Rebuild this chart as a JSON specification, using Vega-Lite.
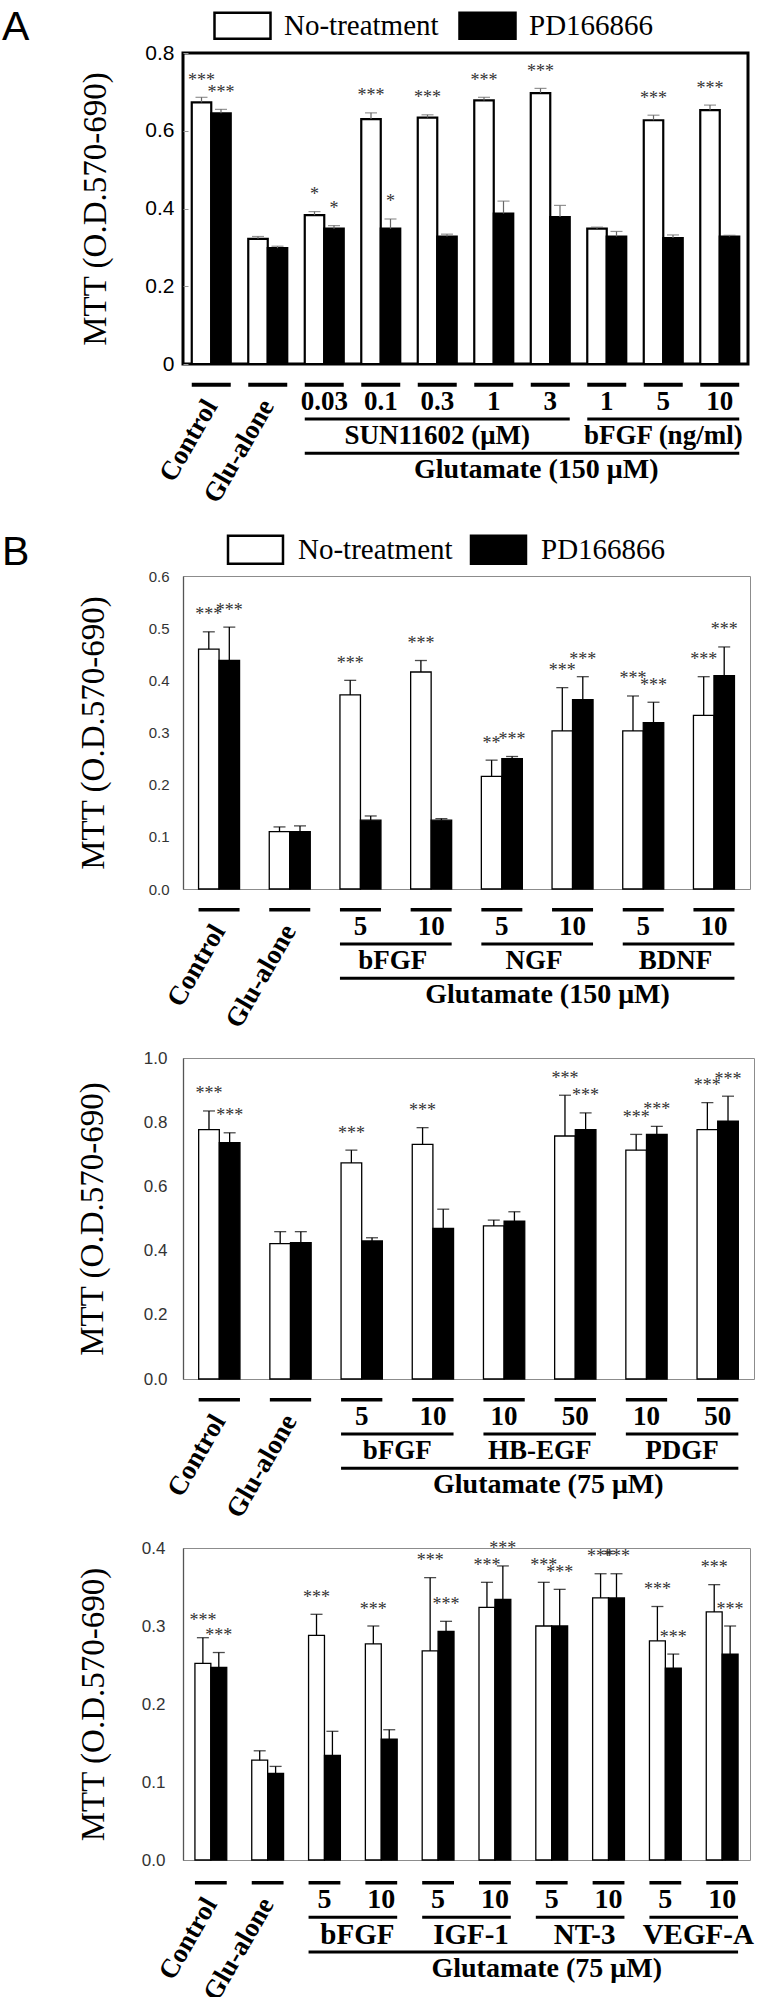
{
"$schema": "https://vega.github.io/schema/vega-lite/v6.json",
"padding": {"left": 0, "top": 5, "right": 0, "bottom": 0},
"background": "white",
"config": {"view": {"stroke": null}, "text": {"font": "Liberation Serif"}},
"datasets": {
"A": [
{"g":"Control","s":"No-treatment","v":0.673,"e":0.686,"sig":"***"},
{"g":"Control","s":"PD166866","v":0.645,"e":0.655,"sig":"***"},
{"g":"Glu-alone","s":"No-treatment","v":0.322,"e":0.328,"sig":""},
{"g":"Glu-alone","s":"PD166866","v":0.298,"e":0.303,"sig":""},
{"g":"S0.03","s":"No-treatment","v":0.383,"e":0.392,"sig":"*"},
{"g":"S0.03","s":"PD166866","v":0.348,"e":0.356,"sig":"*"},
{"g":"S0.1","s":"No-treatment","v":0.630,"e":0.646,"sig":"***"},
{"g":"S0.1","s":"PD166866","v":0.348,"e":0.373,"sig":"*"},
{"g":"S0.3","s":"No-treatment","v":0.634,"e":0.641,"sig":"***"},
{"g":"S0.3","s":"PD166866","v":0.328,"e":0.334,"sig":""},
{"g":"S1","s":"No-treatment","v":0.678,"e":0.686,"sig":"***"},
{"g":"S1","s":"PD166866","v":0.387,"e":0.419,"sig":""},
{"g":"S3","s":"No-treatment","v":0.697,"e":0.709,"sig":"***"},
{"g":"S3","s":"PD166866","v":0.378,"e":0.408,"sig":""},
{"g":"F1","s":"No-treatment","v":0.348,"e":0.352,"sig":""},
{"g":"F1","s":"PD166866","v":0.328,"e":0.341,"sig":""},
{"g":"F5","s":"No-treatment","v":0.627,"e":0.640,"sig":"***"},
{"g":"F5","s":"PD166866","v":0.324,"e":0.332,"sig":""},
{"g":"F10","s":"No-treatment","v":0.653,"e":0.666,"sig":"***"},
{"g":"F10","s":"PD166866","v":0.328,"e":0.331,"sig":""}
],
"Ag": [
{"g":"Control","dose":"","rot":"Control"},
{"g":"Glu-alone","dose":"","rot":"Glu-alone"},
{"g":"S0.03","dose":"0.03","rot":""},
{"g":"S0.1","dose":"0.1","rot":""},
{"g":"S0.3","dose":"0.3","rot":""},
{"g":"S1","dose":"1","rot":""},
{"g":"S3","dose":"3","rot":""},
{"g":"F1","dose":"1","rot":""},
{"g":"F5","dose":"5","rot":""},
{"g":"F10","dose":"10","rot":""}
],
"Abr": [
{"from":"S0.03","to":"S3","mid":"S0.3","label":"SUN11602 (μM)"},
{"from":"F1","to":"F10","mid":"F5","label":"bFGF (ng/ml)"}
],
"Aglu": [{"from":"S0.03","to":"F10","anchor":"S3","label":"Glutamate (150 μM)"}],
"B1": [
{"g":"Control","s":"No-treatment","v":0.460,"e":0.493,"sig":"***"},
{"g":"Control","s":"PD166866","v":0.438,"e":0.502,"sig":"***"},
{"g":"Glu-alone","s":"No-treatment","v":0.110,"e":0.119,"sig":""},
{"g":"Glu-alone","s":"PD166866","v":0.110,"e":0.121,"sig":""},
{"g":"bFGF5","s":"No-treatment","v":0.372,"e":0.400,"sig":"***"},
{"g":"bFGF5","s":"PD166866","v":0.132,"e":0.140,"sig":""},
{"g":"bFGF10","s":"No-treatment","v":0.416,"e":0.438,"sig":"***"},
{"g":"bFGF10","s":"PD166866","v":0.132,"e":0.135,"sig":""},
{"g":"NGF5","s":"No-treatment","v":0.216,"e":0.247,"sig":"**"},
{"g":"NGF5","s":"PD166866","v":0.250,"e":0.254,"sig":"***"},
{"g":"NGF10","s":"No-treatment","v":0.303,"e":0.386,"sig":"***"},
{"g":"NGF10","s":"PD166866","v":0.363,"e":0.407,"sig":"***"},
{"g":"BDNF5","s":"No-treatment","v":0.303,"e":0.370,"sig":"***"},
{"g":"BDNF5","s":"PD166866","v":0.319,"e":0.358,"sig":"***"},
{"g":"BDNF10","s":"No-treatment","v":0.333,"e":0.407,"sig":"***"},
{"g":"BDNF10","s":"PD166866","v":0.409,"e":0.464,"sig":"***"}
],
"B1g": [
{"g":"Control","dose":"","rot":"Control"},
{"g":"Glu-alone","dose":"","rot":"Glu-alone"},
{"g":"bFGF5","dose":"5","rot":""},
{"g":"bFGF10","dose":"10","rot":""},
{"g":"NGF5","dose":"5","rot":""},
{"g":"NGF10","dose":"10","rot":""},
{"g":"BDNF5","dose":"5","rot":""},
{"g":"BDNF10","dose":"10","rot":""}
],
"B1br": [
{"from":"bFGF5","to":"bFGF10","label":"bFGF"},
{"from":"NGF5","to":"NGF10","label":"NGF"},
{"from":"BDNF5","to":"BDNF10","label":"BDNF"}
],
"B1glu": [{"from":"bFGF5","to":"BDNF10","anchor":"NGF10","label":"Glutamate (150 μM)"}],
"B2": [
{"g":"Control","s":"No-treatment","v":0.777,"e":0.835,"sig":"***"},
{"g":"Control","s":"PD166866","v":0.736,"e":0.767,"sig":"***"},
{"g":"Glu-alone","s":"No-treatment","v":0.422,"e":0.459,"sig":""},
{"g":"Glu-alone","s":"PD166866","v":0.425,"e":0.459,"sig":""},
{"g":"bFGF5","s":"No-treatment","v":0.673,"e":0.713,"sig":"***"},
{"g":"bFGF5","s":"PD166866","v":0.430,"e":0.440,"sig":""},
{"g":"bFGF10","s":"No-treatment","v":0.731,"e":0.783,"sig":"***"},
{"g":"bFGF10","s":"PD166866","v":0.469,"e":0.529,"sig":""},
{"g":"HB10","s":"No-treatment","v":0.477,"e":0.495,"sig":""},
{"g":"HB10","s":"PD166866","v":0.492,"e":0.521,"sig":""},
{"g":"HB50","s":"No-treatment","v":0.757,"e":0.884,"sig":"***"},
{"g":"HB50","s":"PD166866","v":0.777,"e":0.829,"sig":"***"},
{"g":"PDGF10","s":"No-treatment","v":0.713,"e":0.762,"sig":"***"},
{"g":"PDGF10","s":"PD166866","v":0.762,"e":0.787,"sig":"***"},
{"g":"PDGF50","s":"No-treatment","v":0.777,"e":0.861,"sig":"***"},
{"g":"PDGF50","s":"PD166866","v":0.803,"e":0.881,"sig":"***"}
],
"B2g": [
{"g":"Control","dose":"","rot":"Control"},
{"g":"Glu-alone","dose":"","rot":"Glu-alone"},
{"g":"bFGF5","dose":"5","rot":""},
{"g":"bFGF10","dose":"10","rot":""},
{"g":"HB10","dose":"10","rot":""},
{"g":"HB50","dose":"50","rot":""},
{"g":"PDGF10","dose":"10","rot":""},
{"g":"PDGF50","dose":"50","rot":""}
],
"B2br": [
{"from":"bFGF5","to":"bFGF10","label":"bFGF"},
{"from":"HB10","to":"HB50","label":"HB-EGF"},
{"from":"PDGF10","to":"PDGF50","label":"PDGF"}
],
"B2glu": [{"from":"bFGF5","to":"PDGF50","anchor":"HB50","label":"Glutamate (75 μM)"}],
"B3": [
{"g":"Control","s":"No-treatment","v":0.252,"e":0.285,"sig":"***"},
{"g":"Control","s":"PD166866","v":0.247,"e":0.266,"sig":"***"},
{"g":"Glu-alone","s":"No-treatment","v":0.128,"e":0.140,"sig":""},
{"g":"Glu-alone","s":"PD166866","v":0.111,"e":0.120,"sig":""},
{"g":"bFGF5","s":"No-treatment","v":0.288,"e":0.315,"sig":"***"},
{"g":"bFGF5","s":"PD166866","v":0.134,"e":0.165,"sig":""},
{"g":"bFGF10","s":"No-treatment","v":0.277,"e":0.300,"sig":"***"},
{"g":"bFGF10","s":"PD166866","v":0.155,"e":0.167,"sig":""},
{"g":"IGF5","s":"No-treatment","v":0.268,"e":0.362,"sig":"***"},
{"g":"IGF5","s":"PD166866","v":0.293,"e":0.306,"sig":"***"},
{"g":"IGF10","s":"No-treatment","v":0.324,"e":0.356,"sig":"***"},
{"g":"IGF10","s":"PD166866","v":0.334,"e":0.377,"sig":"***"},
{"g":"NT5","s":"No-treatment","v":0.300,"e":0.356,"sig":"***"},
{"g":"NT5","s":"PD166866","v":0.300,"e":0.347,"sig":"***"},
{"g":"NT10","s":"No-treatment","v":0.336,"e":0.367,"sig":"***"},
{"g":"NT10","s":"PD166866","v":0.336,"e":0.367,"sig":"***"},
{"g":"VEGF5","s":"No-treatment","v":0.281,"e":0.325,"sig":"***"},
{"g":"VEGF5","s":"PD166866","v":0.246,"e":0.264,"sig":"***"},
{"g":"VEGF10","s":"No-treatment","v":0.318,"e":0.353,"sig":"***"},
{"g":"VEGF10","s":"PD166866","v":0.264,"e":0.300,"sig":"***"}
],
"B3g": [
{"g":"Control","dose":"","rot":"Control"},
{"g":"Glu-alone","dose":"","rot":"Glu-alone"},
{"g":"bFGF5","dose":"5","rot":""},
{"g":"bFGF10","dose":"10","rot":""},
{"g":"IGF5","dose":"5","rot":""},
{"g":"IGF10","dose":"10","rot":""},
{"g":"NT5","dose":"5","rot":""},
{"g":"NT10","dose":"10","rot":""},
{"g":"VEGF5","dose":"5","rot":""},
{"g":"VEGF10","dose":"10","rot":""}
],
"B3br": [
{"from":"bFGF5","to":"bFGF10","label":"bFGF"},
{"from":"IGF5","to":"IGF10","label":"IGF-1"},
{"from":"NT5","to":"NT10","label":"NT-3"},
{"from":"VEGF5","to":"VEGF10","label":"VEGF-A"}
],
"B3glu": [{"from":"bFGF5","to":"VEGF10","anchor":"NT5","label":"Glutamate (75 μM)"}]
},
"vconcat": [
{
"width": 565, "height": 311,
"data": {"name": "A"},
"view": {"stroke": "black", "strokeWidth": 3},
"title": {"text": "A", "anchor": "start", "frame": "group", "dx": -181, "dy": 38, "font": "Liberation Sans", "fontSize": 41, "fontWeight": "normal", "color": "black", "offset": 0},
"encoding": {
"x": {"field": "g", "type": "nominal", "scale": {"type": "band", "domain": ["Control","Glu-alone","S0.03","S0.1","S0.3","S1","S3","F1","F5","F10"], "paddingInner": 0.31, "paddingOuter": 0.155}, "axis": null},
"xOffset": {"field": "s", "type": "nominal", "scale": {"domain": ["No-treatment","PD166866"], "paddingInner": 0, "paddingOuter": 0}}
},
"layer": [
{"mark": {"type": "bar", "stroke": "black", "strokeWidth": 2.2},
"encoding": {
"y": {"field": "v", "type": "quantitative", "title": "MTT (O.D.570-690)", "scale": {"domain": [0, 0.8], "nice": false},
"axis": {"values": [0,0.1,0.2,0.3,0.4,0.5,0.6,0.7,0.8], "labelExpr": "datum.value < 0.001 ? '0' : (round(datum.value * 10) % 2 == 0 ? format(datum.value, '.1f') : '')", "titleFont": "Liberation Serif", "titleFontSize": 33, "titleFontWeight": "normal", "titleColor": "black", "titleX": -88, "titleBaseline": "middle", "grid": false, "domain": false, "ticks": true, "tickSize": -5, "tickColor": "#999", "labelFont": "Liberation Sans", "labelFontSize": 21, "labelColor": "black", "labelPadding": 14}},
"fill": {"field": "s", "type": "nominal", "scale": {"domain": ["No-treatment","PD166866"], "range": ["white","black"]},
"legend": {"orient": "none", "legendX": 45, "legendY": -42, "direction": "horizontal", "title": null, "symbolType": "M-2.154,-1H2.154V1H-2.154Z", "symbolSize": 676, "symbolStrokeColor": "black", "symbolStrokeWidth": 2.5, "labelFont": "Liberation Serif", "labelFontSize": 29, "labelColor": "black", "labelOffset": 27, "columnPadding": 15, "labelLimit": 0}}
}},
{"mark": {"type": "rule", "color": "#666", "strokeWidth": 1.2},
"encoding": {"y": {"field": "v", "type": "quantitative", "title": "MTT (O.D.570-690)"}, "y2": {"field": "e"}}},
{"mark": {"type": "tick", "color": "#666", "thickness": 1.2, "size": 12, "orient": "horizontal"},
"encoding": {"y": {"field": "e", "type": "quantitative", "title": "MTT (O.D.570-690)"}}},
{"mark": {"type": "text", "font": "Liberation Serif", "fontSize": 18, "dy": -11.5, "baseline": "alphabetic", "color": "#333"},
"encoding": {"y": {"field": "e", "type": "quantitative", "title": "MTT (O.D.570-690)"}, "text": {"field": "sig"}}}
]
},
{
"width": 565, "height": 212,
"layer": [
{"data": {"name": "Ag"}, "mark": {"type": "rule", "strokeWidth": 4, "color": "black"},
"encoding": {
"x": {"field": "g", "type": "nominal", "bandPosition": 0, "scale": {"type": "band", "domain": ["Control","Glu-alone","S0.03","S0.1","S0.3","S1","S3","F1","F5","F10"], "paddingInner": 0.31, "paddingOuter": 0.155}, "axis": null},
"x2": {"field": "g", "bandPosition": 1},
"y": {"datum": "dash", "type": "nominal", "scale": {"type": "point", "domain": ["dash","dose","line1","agent","line2","glu"], "range": [12.3, 114.8]}, "axis": null}}},
{"data": {"name": "Ag"}, "mark": {"type": "text", "font": "Liberation Serif", "fontWeight": "bold", "fontSize": 27, "baseline": "middle", "color": "black"},
"encoding": {"x": {"field": "g", "type": "nominal"}, "y": {"datum": "dose", "type": "nominal"}, "text": {"field": "dose"}}},
{"data": {"name": "Ag"}, "mark": {"type": "text", "font": "Liberation Serif", "fontWeight": "bold", "fontSize": 27, "angle": 300, "align": "right", "baseline": "middle", "color": "black"},
"encoding": {"x": {"field": "g", "type": "nominal"}, "y": {"datum": "dose", "type": "nominal"}, "text": {"field": "rot"}}},
{"data": {"name": "Abr"}, "mark": {"type": "rule", "strokeWidth": 3, "color": "black"},
"encoding": {"x": {"field": "from", "type": "nominal", "bandPosition": 0}, "x2": {"field": "to", "bandPosition": 1}, "y": {"datum": "line1", "type": "nominal"}}},
{"data": {"name": "Abr"}, "mark": {"type": "text", "font": "Liberation Serif", "fontWeight": "bold", "fontSize": 27, "baseline": "middle", "color": "black"},
"encoding": {"x": {"field": "mid", "type": "nominal"}, "y": {"datum": "agent", "type": "nominal"}, "text": {"field": "label"}}},
{"data": {"name": "Aglu"}, "mark": {"type": "rule", "strokeWidth": 3, "color": "black"},
"encoding": {"x": {"field": "from", "type": "nominal", "bandPosition": 0}, "x2": {"field": "to", "bandPosition": 1}, "y": {"datum": "line2", "type": "nominal"}}},
{"data": {"name": "Aglu"}, "mark": {"type": "text", "font": "Liberation Serif", "fontWeight": "bold", "fontSize": 28, "baseline": "middle", "color": "black", "dx": -14},
"encoding": {"x": {"field": "anchor", "type": "nominal"}, "y": {"datum": "glu", "type": "nominal"}, "text": {"field": "label"}}}
]
},
{
"width": 567, "height": 313,
"data": {"name": "B1"},
"view": {"stroke": "#8c8c8c", "strokeWidth": 1},
"title": {"text": "B", "anchor": "start", "frame": "group", "dx": -181, "dy": 40, "font": "Liberation Sans", "fontSize": 41, "fontWeight": "normal", "color": "black", "offset": 0},
"encoding": {
"x": {"field": "g", "type": "nominal", "scale": {"type": "band", "domain": ["Control","Glu-alone","bFGF5","bFGF10","NGF5","NGF10","BDNF5","BDNF10"], "paddingInner": 0.42, "paddingOuter": 0.22}, "axis": null},
"xOffset": {"field": "s", "type": "nominal", "scale": {"domain": ["No-treatment","PD166866"], "paddingInner": 0, "paddingOuter": 0}}
},
"layer": [
{"mark": {"type": "bar", "stroke": "black", "strokeWidth": 1.3},
"encoding": {
"y": {"field": "v", "type": "quantitative", "title": "MTT (O.D.570-690)", "scale": {"domain": [0, 0.6], "nice": false},
"axis": {"values": [0,0.1,0.2,0.3,0.4,0.5,0.6], "format": ".1f", "titleFont": "Liberation Serif", "titleFontSize": 33, "titleFontWeight": "normal", "titleColor": "black", "titleX": -90, "titleBaseline": "middle", "grid": false, "domain": true, "domainColor": "#555", "domainWidth": 1.3, "ticks": false, "labelFont": "Liberation Sans", "labelFontSize": 15, "labelColor": "#333", "labelPadding": 14}},
"fill": {"field": "s", "type": "nominal", "scale": {"domain": ["No-treatment","PD166866"], "range": ["white","black"]},
"legend": {"orient": "none", "legendX": 57, "legendY": -42, "direction": "horizontal", "title": null, "symbolType": "M-1.964,-1H1.964V1H-1.964Z", "symbolSize": 784, "symbolStrokeColor": "black", "symbolStrokeWidth": 2.5, "labelFont": "Liberation Serif", "labelFontSize": 29, "labelColor": "black", "labelOffset": 27, "columnPadding": 13, "labelLimit": 0}}
}},
{"mark": {"type": "rule", "color": "black", "strokeWidth": 1.3},
"encoding": {"y": {"field": "v", "type": "quantitative", "title": "MTT (O.D.570-690)"}, "y2": {"field": "e"}}},
{"mark": {"type": "tick", "color": "black", "thickness": 1.3, "size": 12, "orient": "horizontal"},
"encoding": {"y": {"field": "e", "type": "quantitative", "title": "MTT (O.D.570-690)"}}},
{"mark": {"type": "text", "font": "Liberation Serif", "fontSize": 18, "dy": -11.5, "baseline": "alphabetic", "color": "#333"},
"encoding": {"y": {"field": "e", "type": "quantitative", "title": "MTT (O.D.570-690)"}, "text": {"field": "sig"}}}
]
},
{
"width": 567, "height": 169,
"layer": [
{"data": {"name": "B1g"}, "mark": {"type": "rule", "strokeWidth": 3.5, "color": "black"},
"encoding": {
"x": {"field": "g", "type": "nominal", "bandPosition": 0, "scale": {"type": "band", "domain": ["Control","Glu-alone","bFGF5","bFGF10","NGF5","NGF10","BDNF5","BDNF10"], "paddingInner": 0.42, "paddingOuter": 0.22}, "axis": null},
"x2": {"field": "g", "bandPosition": 1},
"y": {"datum": "dash", "type": "nominal", "scale": {"type": "point", "domain": ["dash","dose","line1","agent","line2","glu"], "range": [12.3, 114.8]}, "axis": null}}},
{"data": {"name": "B1g"}, "mark": {"type": "text", "font": "Liberation Serif", "fontWeight": "bold", "fontSize": 27, "baseline": "middle", "color": "black"},
"encoding": {"x": {"field": "g", "type": "nominal"}, "y": {"datum": "dose", "type": "nominal"}, "text": {"field": "dose"}}},
{"data": {"name": "B1g"}, "mark": {"type": "text", "font": "Liberation Serif", "fontWeight": "bold", "fontSize": 27, "angle": 300, "align": "right", "baseline": "middle", "color": "black"},
"encoding": {"x": {"field": "g", "type": "nominal"}, "y": {"datum": "dose", "type": "nominal"}, "text": {"field": "rot"}}},
{"data": {"name": "B1br"}, "mark": {"type": "rule", "strokeWidth": 3, "color": "black"},
"encoding": {"x": {"field": "from", "type": "nominal", "bandPosition": 0}, "x2": {"field": "to", "bandPosition": 1}, "y": {"datum": "line1", "type": "nominal"}}},
{"data": {"name": "B1br"}, "mark": {"type": "text", "font": "Liberation Serif", "fontWeight": "bold", "fontSize": 27, "baseline": "middle", "color": "black", "dx": -18},
"encoding": {"x": {"field": "to", "type": "nominal", "bandPosition": 0}, "y": {"datum": "agent", "type": "nominal"}, "text": {"field": "label"}}},
{"data": {"name": "B1glu"}, "mark": {"type": "rule", "strokeWidth": 3, "color": "black"},
"encoding": {"x": {"field": "from", "type": "nominal", "bandPosition": 0}, "x2": {"field": "to", "bandPosition": 1}, "y": {"datum": "line2", "type": "nominal"}}},
{"data": {"name": "B1glu"}, "mark": {"type": "text", "font": "Liberation Serif", "fontWeight": "bold", "fontSize": 28, "baseline": "middle", "color": "black", "dx": -25},
"encoding": {"x": {"field": "anchor", "type": "nominal"}, "y": {"datum": "glu", "type": "nominal"}, "text": {"field": "label"}}}
]
},
{
"width": 571, "height": 321,
"data": {"name": "B2"},
"view": {"stroke": "#8c8c8c", "strokeWidth": 1},
"encoding": {
"x": {"field": "g", "type": "nominal", "scale": {"type": "band", "domain": ["Control","Glu-alone","bFGF5","bFGF10","HB10","HB50","PDGF10","PDGF50"], "paddingInner": 0.42, "paddingOuter": 0.22}, "axis": null},
"xOffset": {"field": "s", "type": "nominal", "scale": {"domain": ["No-treatment","PD166866"], "paddingInner": 0, "paddingOuter": 0}}
},
"layer": [
{"mark": {"type": "bar", "stroke": "black", "strokeWidth": 1.3},
"encoding": {
"y": {"field": "v", "type": "quantitative", "title": "MTT (O.D.570-690)", "scale": {"domain": [0, 1.0], "nice": false},
"axis": {"values": [0,0.2,0.4,0.6,0.8,1.0], "format": ".1f", "titleFont": "Liberation Serif", "titleFontSize": 33, "titleFontWeight": "normal", "titleColor": "black", "titleX": -91, "titleBaseline": "middle", "grid": false, "domain": true, "domainColor": "#555", "domainWidth": 1.3, "ticks": false, "labelFont": "Liberation Sans", "labelFontSize": 17, "labelColor": "#333", "labelPadding": 16}},
"fill": {"field": "s", "type": "nominal", "scale": {"domain": ["No-treatment","PD166866"], "range": ["white","black"]}, "legend": null}
}},
{"mark": {"type": "rule", "color": "black", "strokeWidth": 1.3},
"encoding": {"y": {"field": "v", "type": "quantitative", "title": "MTT (O.D.570-690)"}, "y2": {"field": "e"}}},
{"mark": {"type": "tick", "color": "black", "thickness": 1.3, "size": 12, "orient": "horizontal"},
"encoding": {"y": {"field": "e", "type": "quantitative", "title": "MTT (O.D.570-690)"}}},
{"mark": {"type": "text", "font": "Liberation Serif", "fontSize": 18, "dy": -11.5, "baseline": "alphabetic", "color": "#333"},
"encoding": {"y": {"field": "e", "type": "quantitative", "title": "MTT (O.D.570-690)"}, "text": {"field": "sig"}}}
]
},
{
"width": 571, "height": 169,
"layer": [
{"data": {"name": "B2g"}, "mark": {"type": "rule", "strokeWidth": 3.5, "color": "black"},
"encoding": {
"x": {"field": "g", "type": "nominal", "bandPosition": 0, "scale": {"type": "band", "domain": ["Control","Glu-alone","bFGF5","bFGF10","HB10","HB50","PDGF10","PDGF50"], "paddingInner": 0.42, "paddingOuter": 0.22}, "axis": null},
"x2": {"field": "g", "bandPosition": 1},
"y": {"datum": "dash", "type": "nominal", "scale": {"type": "point", "domain": ["dash","dose","line1","agent","line2","glu"], "range": [12.3, 114.8]}, "axis": null}}},
{"data": {"name": "B2g"}, "mark": {"type": "text", "font": "Liberation Serif", "fontWeight": "bold", "fontSize": 27, "baseline": "middle", "color": "black"},
"encoding": {"x": {"field": "g", "type": "nominal"}, "y": {"datum": "dose", "type": "nominal"}, "text": {"field": "dose"}}},
{"data": {"name": "B2g"}, "mark": {"type": "text", "font": "Liberation Serif", "fontWeight": "bold", "fontSize": 27, "angle": 300, "align": "right", "baseline": "middle", "color": "black"},
"encoding": {"x": {"field": "g", "type": "nominal"}, "y": {"datum": "dose", "type": "nominal"}, "text": {"field": "rot"}}},
{"data": {"name": "B2br"}, "mark": {"type": "rule", "strokeWidth": 3, "color": "black"},
"encoding": {"x": {"field": "from", "type": "nominal", "bandPosition": 0}, "x2": {"field": "to", "bandPosition": 1}, "y": {"datum": "line1", "type": "nominal"}}},
{"data": {"name": "B2br"}, "mark": {"type": "text", "font": "Liberation Serif", "fontWeight": "bold", "fontSize": 27, "baseline": "middle", "color": "black", "dx": -15},
"encoding": {"x": {"field": "to", "type": "nominal", "bandPosition": 0}, "y": {"datum": "agent", "type": "nominal"}, "text": {"field": "label"}}},
{"data": {"name": "B2glu"}, "mark": {"type": "rule", "strokeWidth": 3, "color": "black"},
"encoding": {"x": {"field": "from", "type": "nominal", "bandPosition": 0}, "x2": {"field": "to", "bandPosition": 1}, "y": {"datum": "line2", "type": "nominal"}}},
{"data": {"name": "B2glu"}, "mark": {"type": "text", "font": "Liberation Serif", "fontWeight": "bold", "fontSize": 28, "baseline": "middle", "color": "black", "dx": -27},
"encoding": {"x": {"field": "anchor", "type": "nominal"}, "y": {"datum": "glu", "type": "nominal"}, "text": {"field": "label"}}}
]
},
{
"width": 567, "height": 312,
"data": {"name": "B3"},
"view": {"stroke": "#8c8c8c", "strokeWidth": 1},
"encoding": {
"x": {"field": "g", "type": "nominal", "scale": {"type": "band", "domain": ["Control","Glu-alone","bFGF5","bFGF10","IGF5","IGF10","NT5","NT10","VEGF5","VEGF10"], "paddingInner": 0.44, "paddingOuter": 0.21}, "axis": null},
"xOffset": {"field": "s", "type": "nominal", "scale": {"domain": ["No-treatment","PD166866"], "paddingInner": 0, "paddingOuter": 0}}
},
"layer": [
{"mark": {"type": "bar", "stroke": "black", "strokeWidth": 1.3},
"encoding": {
"y": {"field": "v", "type": "quantitative", "title": "MTT (O.D.570-690)", "scale": {"domain": [0, 0.4], "nice": false},
"axis": {"values": [0,0.1,0.2,0.3,0.4], "format": ".1f", "titleFont": "Liberation Serif", "titleFontSize": 33, "titleFontWeight": "normal", "titleColor": "black", "titleX": -90, "titleBaseline": "middle", "grid": false, "domain": true, "domainColor": "#555", "domainWidth": 1.3, "ticks": false, "labelFont": "Liberation Sans", "labelFontSize": 17, "labelColor": "#333", "labelPadding": 18}},
"fill": {"field": "s", "type": "nominal", "scale": {"domain": ["No-treatment","PD166866"], "range": ["white","black"]}, "legend": null}
}},
{"mark": {"type": "rule", "color": "black", "strokeWidth": 1.3},
"encoding": {"y": {"field": "v", "type": "quantitative", "title": "MTT (O.D.570-690)"}, "y2": {"field": "e"}}},
{"mark": {"type": "tick", "color": "black", "thickness": 1.3, "size": 12, "orient": "horizontal"},
"encoding": {"y": {"field": "e", "type": "quantitative", "title": "MTT (O.D.570-690)"}}},
{"mark": {"type": "text", "font": "Liberation Serif", "fontSize": 18, "dy": -11.5, "baseline": "alphabetic", "color": "#333"},
"encoding": {"y": {"field": "e", "type": "quantitative", "title": "MTT (O.D.570-690)"}, "text": {"field": "sig"}}}
]
},
{
"width": 567, "height": 127,
"layer": [
{"data": {"name": "B3g"}, "mark": {"type": "rule", "strokeWidth": 3.5, "color": "black"},
"encoding": {
"x": {"field": "g", "type": "nominal", "bandPosition": 0, "scale": {"type": "band", "domain": ["Control","Glu-alone","bFGF5","bFGF10","IGF5","IGF10","NT5","NT10","VEGF5","VEGF10"], "paddingInner": 0.44, "paddingOuter": 0.21}, "axis": null},
"x2": {"field": "g", "bandPosition": 1},
"y": {"datum": "dash", "type": "nominal", "scale": {"type": "point", "domain": ["dash","dose","line1","agent","line2","glu"], "range": [14, 118]}, "axis": null}}},
{"data": {"name": "B3g"}, "mark": {"type": "text", "font": "Liberation Serif", "fontWeight": "bold", "fontSize": 28, "baseline": "middle", "color": "black"},
"encoding": {"x": {"field": "g", "type": "nominal"}, "y": {"datum": "dose", "type": "nominal"}, "text": {"field": "dose"}}},
{"data": {"name": "B3g"}, "mark": {"type": "text", "font": "Liberation Serif", "fontWeight": "bold", "fontSize": 27, "angle": 300, "align": "right", "baseline": "middle", "color": "black"},
"encoding": {"x": {"field": "g", "type": "nominal"}, "y": {"datum": "dose", "type": "nominal"}, "text": {"field": "rot"}}},
{"data": {"name": "B3br"}, "mark": {"type": "rule", "strokeWidth": 3, "color": "black"},
"encoding": {"x": {"field": "from", "type": "nominal", "bandPosition": 0}, "x2": {"field": "to", "bandPosition": 1}, "y": {"datum": "line1", "type": "nominal"}}},
{"data": {"name": "B3br"}, "mark": {"type": "text", "font": "Liberation Serif", "fontWeight": "bold", "fontSize": 29, "baseline": "middle", "color": "black", "dx": -8},
"encoding": {"x": {"field": "to", "type": "nominal", "bandPosition": 0}, "y": {"datum": "agent", "type": "nominal"}, "text": {"field": "label"}}},
{"data": {"name": "B3glu"}, "mark": {"type": "rule", "strokeWidth": 3, "color": "black"},
"encoding": {"x": {"field": "from", "type": "nominal", "bandPosition": 0}, "x2": {"field": "to", "bandPosition": 1}, "y": {"datum": "line2", "type": "nominal"}}},
{"data": {"name": "B3glu"}, "mark": {"type": "text", "font": "Liberation Serif", "fontWeight": "bold", "fontSize": 28, "baseline": "middle", "color": "black", "dx": -5},
"encoding": {"x": {"field": "anchor", "type": "nominal"}, "y": {"datum": "glu", "type": "nominal"}, "text": {"field": "label"}}}
]
}
],
"spacing": 0, "bounds": "flush",
"resolve": {"scale": {"x": "independent", "y": "independent", "fill": "independent", "xOffset": "independent"}, "legend": {"fill": "independent"}}
}
